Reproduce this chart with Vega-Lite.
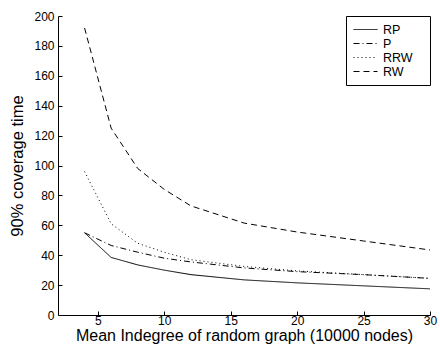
{
  "$schema": "https://vega.github.io/schema/vega-lite/v6.json",
  "autosize": "none",
  "padding": {"left": 58, "top": 16, "right": 10, "bottom": 34},
  "width": 372,
  "height": 299,
  "background": "white",
  "config": {
    "font": "Liberation Sans",
    "view": {"stroke": null},
    "axis": {"grid": false, "domainColor": "black", "tickColor": "black", "labelColor": "black", "titleColor": "black", "labelFont": "Liberation Sans", "titleFont": "Liberation Sans", "titleFontWeight": "normal", "labelFontSize": 12, "domainWidth": 1, "tickWidth": 1}
  },
  "data": {
    "values": [
      {"x": 4, "series": "RP", "y": 55}, {"x": 6, "series": "RP", "y": 38.5}, {"x": 8, "series": "RP", "y": 33.5}, {"x": 10, "series": "RP", "y": 30}, {"x": 12, "series": "RP", "y": 27}, {"x": 16, "series": "RP", "y": 23.5}, {"x": 20, "series": "RP", "y": 21.5}, {"x": 25, "series": "RP", "y": 19.5}, {"x": 30, "series": "RP", "y": 17.5},
      {"x": 4, "series": "P", "y": 55}, {"x": 6, "series": "P", "y": 46.5}, {"x": 8, "series": "P", "y": 42}, {"x": 10, "series": "P", "y": 38}, {"x": 12, "series": "P", "y": 35.5}, {"x": 16, "series": "P", "y": 31.5}, {"x": 20, "series": "P", "y": 29}, {"x": 25, "series": "P", "y": 27}, {"x": 30, "series": "P", "y": 24.5},
      {"x": 4, "series": "RRW", "y": 96}, {"x": 6, "series": "RRW", "y": 61}, {"x": 8, "series": "RRW", "y": 48}, {"x": 10, "series": "RRW", "y": 42}, {"x": 12, "series": "RRW", "y": 37}, {"x": 16, "series": "RRW", "y": 32.5}, {"x": 20, "series": "RRW", "y": 29.5}, {"x": 25, "series": "RRW", "y": 27}, {"x": 30, "series": "RRW", "y": 24.5},
      {"x": 4, "series": "RW", "y": 192}, {"x": 6, "series": "RW", "y": 125}, {"x": 8, "series": "RW", "y": 98}, {"x": 10, "series": "RW", "y": 84}, {"x": 12, "series": "RW", "y": 73}, {"x": 16, "series": "RW", "y": 61.5}, {"x": 20, "series": "RW", "y": 55.5}, {"x": 25, "series": "RW", "y": 49.5}, {"x": 30, "series": "RW", "y": 43.5}
    ]
  },
  "mark": {"type": "line", "strokeWidth": 1, "color": "black"},
  "encoding": {
    "x": {"field": "x", "type": "quantitative", "scale": {"domain": [2, 30], "nice": false, "zero": false},
      "axis": {"values": [5, 10, 15, 20, 25, 30], "title": "Mean Indegree of random graph (10000 nodes)", "titleFontSize": 16, "tickSize": -4, "labelPadding": 4, "titlePadding": 1, "labelFlush": false}},
    "y": {"field": "y", "type": "quantitative", "scale": {"domain": [0, 200], "nice": false},
      "axis": {"values": [0, 20, 40, 60, 80, 100, 120, 140, 160, 180, 200], "title": "90% coverage time", "titleFontSize": 16.5, "tickSize": -4, "labelPadding": 8, "titlePadding": 8}},
    "strokeDash": {"field": "series", "type": "nominal",
      "scale": {"domain": ["RP", "P", "RRW", "RW"], "range": [[1, 0], [6, 3, 1, 3], [1, 3], [6, 4]]},
      "legend": {"title": null, "orient": "top-right", "offset": 0, "symbolType": "M-1,0H3", "symbolSize": 144, "symbolStrokeColor": "black", "symbolFillColor": "transparent", "symbolStrokeWidth": 1, "labelFontSize": 12.5, "labelColor": "black", "labelFont": "Liberation Sans", "labelOffset": 17, "labelExpr": "datum.label + '\u2800'", "strokeColor": "black", "fillColor": "white", "padding": 7, "rowPadding": 1}},
    "opacity": {"value": 1}
  }
}
